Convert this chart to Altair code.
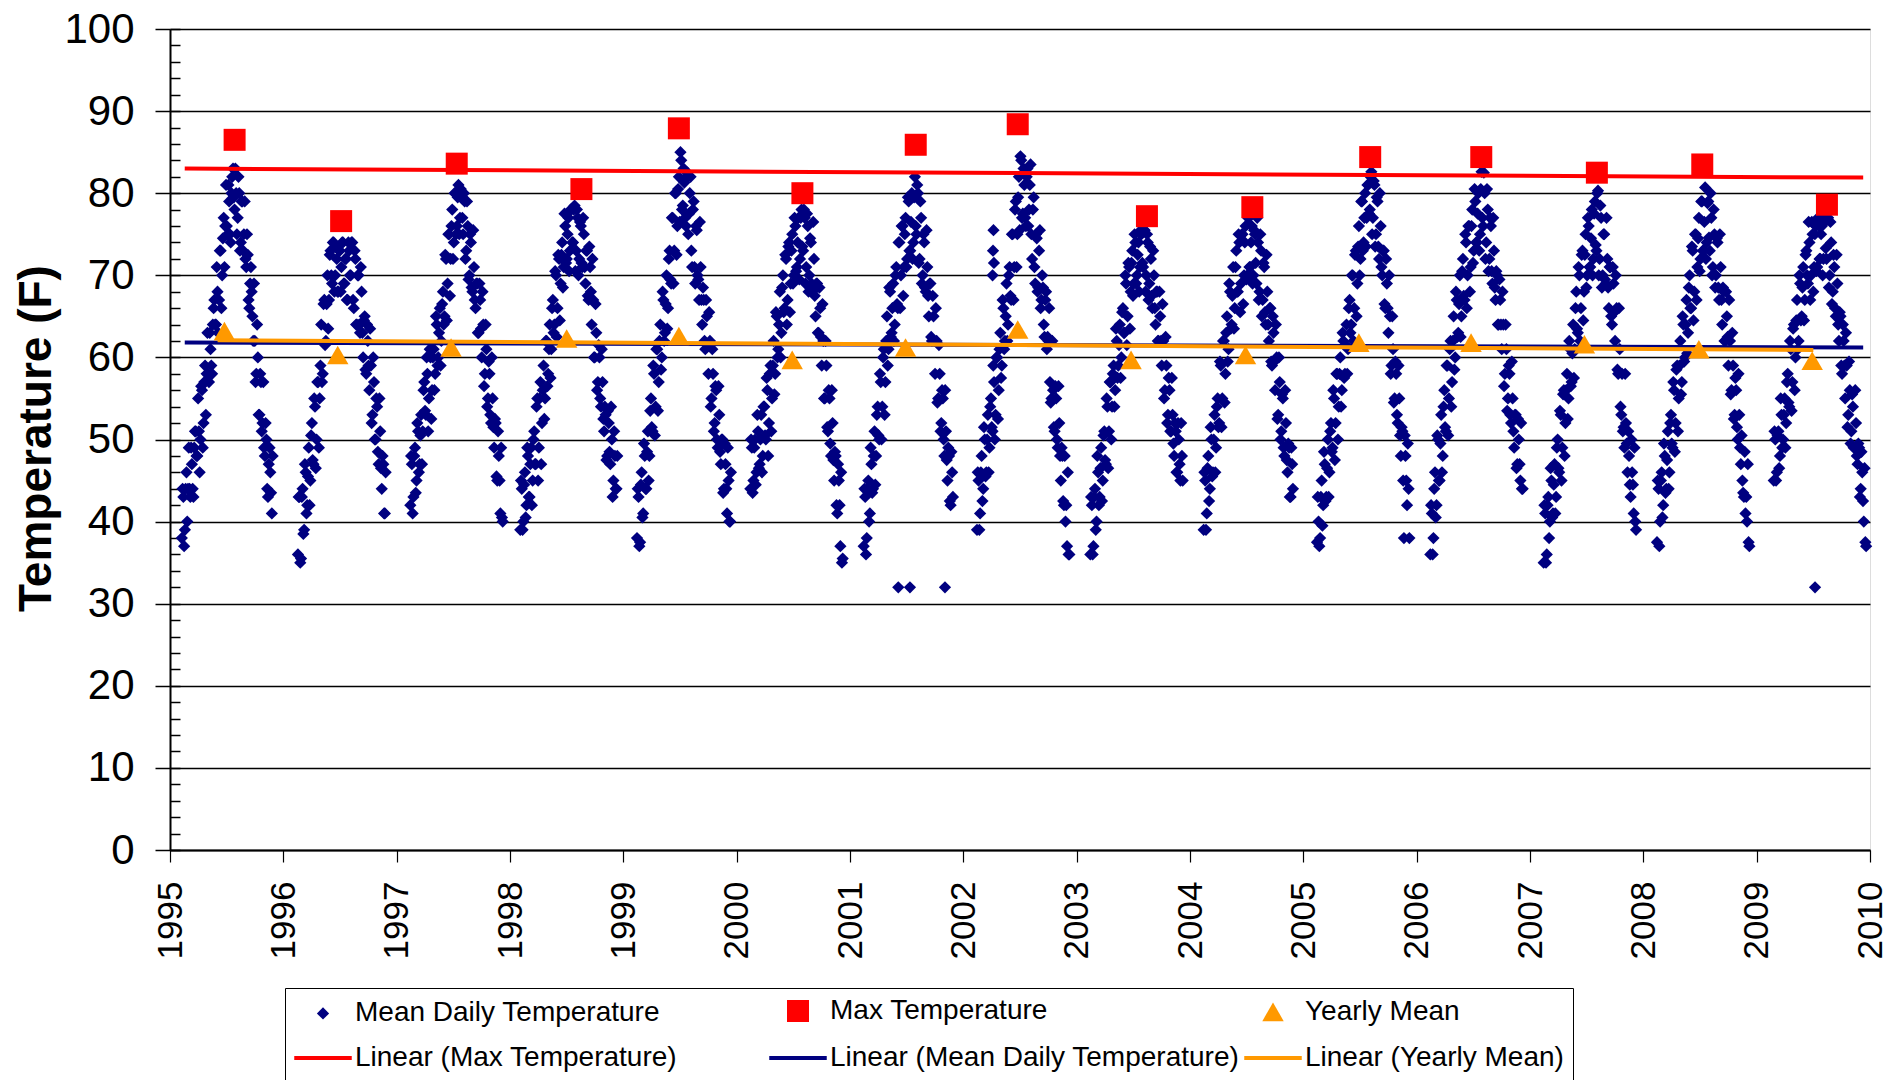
import altair as alt
import pandas as pd

# ------------------------------------------------------------------ data
YEARS = list(range(1995, 2010))
# first sampled day-of-year for each year, and the sampling step (days)
START_DOY = [38, 47, 44, 33, 44, 44, 44, 44, 44, 44, 44, 44, 44, 44, 55]
STEP_DAYS = 5
# second set of readings, taken half a step after the first set
OFFSET_B = 2.5

D1995 = [38, 43, 39, 46, 44, 44, 49, 44, 49, 51, 48, 51, 50, 56, 52, 59, 58, 58, 63, 59,
         64, 67, 64, 68, 67, 73, 70, 77, 76, 76, 81, 75, 80, 83, 78, 80, 77, 80, 74, 79,
         75, 72, 75, 67, 69, 68, 62, 62, 58, 60, 53, 57, 52, 49, 52, 44, 47, 46, 41]
D1996 = [36, 43, 35.5, 44, 39, 46, 42, 49, 45, 52, 47, 54, 50, 57, 55, 64, 58, 67, 62, 70,
         67, 73, 69, 74, 70, 72, 68, 73, 71, 74, 69, 72, 67, 73, 70, 74, 66, 72, 64, 70,
         63, 68, 60, 65, 58, 62, 56, 59, 53, 57, 50, 54, 47, 51, 44, 47, 41]
D1997 = [42, 47, 43, 49, 45, 51, 47, 53, 51, 57, 53, 58, 55, 60, 56, 61, 58, 64, 60, 66,
         62, 68, 65, 72, 69, 75, 72, 78, 74, 80, 76, 81, 77, 80, 75, 79, 73, 76, 70, 74,
         68, 71, 66, 69, 63, 67, 60, 64, 58, 61, 55, 58, 52, 55, 49, 52, 45, 48, 41, 40.5]
D1998 = [39, 44, 40, 46, 42, 48, 43, 49, 45, 51, 47, 55, 49, 57, 52, 59, 55, 62, 58, 64,
         61, 67, 64, 70, 66, 72, 69, 74, 71, 76, 72, 77, 73, 78, 74, 78.5, 73, 77, 72, 76,
         71, 75, 69, 73, 67, 71, 64, 67, 60, 63, 57, 60, 54, 57, 51, 53, 48, 52, 47, 50,
         45, 48, 44]
D1999 = [38, 43, 37.5, 46, 41, 48, 44, 51, 48, 55, 51, 58, 54, 61, 57, 64, 60, 67, 63, 70,
         66, 73, 69, 77, 73, 80, 76, 82, 85, 78, 83, 77, 82, 75, 80, 73, 78, 71, 76, 70,
         67, 71, 64, 67, 61, 65, 58, 62, 55, 58, 52, 56, 49, 53, 47, 50, 44, 47, 41, 45, 40]
D2000 = [44, 49, 45, 50, 46, 51, 47, 53, 48, 54, 50, 56, 52, 59, 55, 62, 58, 65, 61, 68,
         63, 70, 66, 72, 67, 74, 69, 75, 70, 76, 71, 77, 72, 78, 73, 77, 71, 76, 70, 74,
         68, 72, 65, 69, 63, 66, 59, 62, 55, 59, 51, 55, 48, 52, 45, 48, 41, 45, 37, 35]
D2001 = [37, 43, 38, 45, 41, 47, 44, 51, 48, 54, 50, 57, 54, 61, 57, 65, 61, 68, 63, 69,
         64, 71, 66, 74, 70, 76, 71, 77, 72, 79, 73, 80, 74, 82, 75, 80, 72, 77, 70, 74,
         68, 71, 65, 69, 62, 65, 58, 62, 55, 58, 52, 55, 48, 51, 45, 48, 42, 46]
D2002 = [39, 45, 41, 48, 44, 50, 46, 53, 49, 55, 51, 57, 53, 60, 56, 63, 59, 66, 62, 69,
         64, 71, 67, 75, 71, 79, 75, 82, 84.5, 77, 83, 77, 82, 76, 81, 75, 78, 71, 75, 68,
         73, 66, 70, 64, 67, 61, 62, 57, 55, 56, 51, 55, 49, 52, 45, 48, 42, 40, 37, 36]
D2003 = [36, 42, 37, 44, 40, 46, 43, 49, 45, 51, 47, 54, 51, 57, 54, 59, 56, 62, 59, 64,
         60, 66, 63, 69, 65, 71, 68, 73, 69, 74, 70, 74, 71, 75, 71, 75.5, 70, 74, 69, 72,
         66, 70, 64, 68, 62, 65, 59, 62, 56, 59, 53, 56, 51, 53, 48, 51, 46, 50, 45, 48]
D2004 = [39, 45, 41, 48, 44, 50, 46, 53, 49, 55, 52, 59, 55, 62, 58, 65, 61, 68, 64, 71,
         66, 73, 68, 74, 69, 75, 70, 76, 70, 77, 71, 76, 70, 75, 69, 74, 68, 73, 67, 71,
         64, 68, 62, 66, 59, 63, 56, 60, 53, 57, 51, 55, 48, 52, 46, 49, 43, 47]
D2005 = [37.5, 40, 38, 45, 42, 47, 43, 50, 46, 52, 49, 55, 52, 58, 54, 60, 56, 62, 58, 64,
         61, 67, 64, 70, 66, 73, 69, 76, 72, 79, 74, 80, 77, 81, 78, 82.6, 77, 81, 75, 79,
         72, 76, 70, 73, 66, 69, 63, 65, 59, 61, 55, 58, 52, 55, 48, 51, 38, 48, 42, 44]
D2006 = [36, 41, 38, 46, 42, 50, 45, 53, 48, 56, 51, 59, 55, 62, 57, 65, 60, 67, 63, 70,
         65, 72, 67, 74, 70, 76, 71, 78, 73, 79, 74, 80, 75, 82.6, 76, 80, 74, 78, 72, 76,
         69, 73, 67, 70, 64, 67, 61, 64, 58, 61, 55, 58, 52, 55, 49, 53, 47, 50, 45, 44]
D2007 = [35, 41, 36, 43, 40, 45, 41, 47, 43, 50, 46, 53, 49, 56, 52, 58, 55, 61, 57, 64,
         61, 68, 63, 70, 66, 73, 68, 75, 70, 76, 71, 78, 72, 79, 73, 80.3, 72, 77, 70, 75,
         69, 72, 66, 71, 64, 69, 62, 66, 58, 61, 53, 51, 49, 52, 46, 48, 43, 46, 41, 40]
D2008 = [37.5, 44, 40, 46, 42, 48, 44, 51, 46, 53, 49, 56, 52, 59, 55, 62, 57, 64, 60, 67,
         63, 70, 66, 73, 68, 75, 71, 77, 72, 79, 73, 80.7, 74, 79, 73, 77, 71, 75, 70, 74,
         67, 71, 64, 68, 62, 65, 59, 62, 56, 59, 53, 56, 50, 53, 47, 45, 43, 41, 40, 37.5]
D2009 = [45, 50, 46, 51, 48, 53, 50, 55, 52, 58, 54, 61, 57, 64, 60, 67, 62, 69, 65, 71,
         67, 73, 69, 74, 70, 75, 71, 76, 71, 76, 72, 76, 72, 76.5, 72, 77, 70, 74, 68, 71,
         65, 69, 62, 65, 58, 62, 55, 59, 53, 56, 51, 54, 49, 52, 47, 49, 44, 46, 40, 37.5]

E1995 = [44, 37, 44, 40, 49, 43, 47, 43, 51, 48, 55, 46, 56.5, 49, 57, 53, 63, 57, 61, 58,
         66, 64, 71, 63, 73, 66, 74.5, 71, 81, 75, 79, 74, 82, 79.5, 83, 75, 82, 73, 79, 73,
         79, 71, 72.5, 66, 71, 65, 69, 57, 64, 53, 58, 51, 57, 48, 50, 43, 49, 43.5, 48]
E1996 = [43, 35, 43, 38.5, 47, 41, 45.5, 42, 50.5, 47.5, 55, 46.5, 57, 49, 59, 57, 66.5, 61.5,
         66.5, 63.5, 72.5, 70, 74, 68, 73.5, 68, 73, 68, 74, 69, 72, 67, 74, 70, 74, 67, 73,
         64, 70, 64, 71, 63, 64.5, 58.5, 64, 59, 63.5, 52, 60, 50, 55, 48.5, 55, 46.5, 48, 41, 46]
E1997 = [48, 41, 48, 43.5, 52, 46, 50.5, 47, 56, 53.5, 60, 51, 61, 52.5, 60, 56, 65, 59, 63, 59,
         66.5, 64, 72.5, 64.5, 75, 67.5, 76, 72, 80, 75, 79.5, 75, 80.5, 77, 80, 72, 79, 69.5,
         75, 68.5, 75.5, 67, 69, 63, 69, 63.5, 68, 56.5, 64, 54, 59.5, 53, 60, 51.5, 52.5,
         45.5, 51, 45, 49, 40]
E1998 = [45, 39, 44.5, 40.5, 49, 43, 47, 42, 50, 47, 54, 45, 55, 47, 56, 52.5, 62, 56.5, 61,
         57.5, 66, 63, 70.5, 62.5, 72.5, 64.5, 72.5, 68.5, 77.5, 71.5, 75, 70.5, 78, 74, 78,
         70.5, 78, 70, 76.5, 71.5, 77, 71, 73, 67.5, 73.5, 68, 72, 60, 66.5, 56, 61.5, 55, 61,
         52.5, 54, 47.5, 53.5, 48.5, 54, 43, 51, 44, 48]
E1999 = [44, 37, 44.5, 40.5, 49.5, 44, 48.5, 45, 53.5, 51.5, 59, 50.5, 61, 53.5, 62, 58.5, 68,
         62, 66.5, 63.5, 72, 69.5, 77, 69, 80, 72.5, 80.5, 76.5, 84, 78.5, 81.3, 76, 82.5, 77.5,
         82, 71, 79, 69, 75.5, 69.5, 76.5, 67, 68.5, 62, 67, 61.5, 65.5, 54, 61, 51, 56.5, 50,
         56.5, 48.5, 50, 43.5, 49.5, 44, 49, 40, 46]
E2000 = [50, 43.5, 49, 44.5, 53, 46.5, 50, 46, 54, 50.5, 57.5, 48, 58, 51, 59, 55.5, 65.5, 60,
         64, 60, 68.5, 65.5, 72.5, 64, 73.5, 65.5, 73, 69, 77, 70.5, 74, 69.5, 77, 73.5, 78, 69,
         77.5, 68, 74.5, 69, 76.5, 67.5, 69, 63, 68.5, 62.5, 66.5, 55, 62, 51.5, 56, 49.5, 56,
         47.5, 48.5, 42, 47, 42, 46, 35.5]
E2001 = [44, 36, 44, 40, 49, 43.5, 48, 44.5, 53, 50.5, 58, 50, 60, 53, 62, 59, 68.5, 62.5, 66,
         62, 70, 66.5, 74, 66, 76, 67.5, 75, 71, 79.5, 73, 76.5, 72, 79.5, 76, 81, 71.5, 79, 69,
         75, 68.5, 75.5, 67.5, 69, 62.5, 67.5, 62, 66, 54.5, 61.5, 51, 56, 50, 56, 47.5, 49,
         42.5, 48.5, 43]
E2002 = [46, 39, 46, 42.5, 51.5, 45.5, 50, 46, 54, 51.5, 59, 50, 60, 52.5, 61, 57.5, 67, 61,
         65, 62, 70, 67.5, 75, 67, 78, 71, 79.5, 75.5, 84, 77.5, 81, 76, 83, 78, 83.5, 72, 79.5,
         69, 74.5, 68.5, 75.5, 67, 68.5, 62.5, 68, 62.5, 66, 54.5, 62, 51.5, 56.5, 50, 56.5,
         48, 49, 42.5, 48, 42, 46, 36]
E2003 = [43, 36, 43, 39, 48, 42, 46.5, 42.5, 50.5, 47.5, 55, 46.5, 57, 50, 58, 54, 63.5, 57.5,
         61.5, 57.5, 65.5, 63, 70, 61.5, 71.5, 63.5, 71.5, 67.5, 75, 69, 72.5, 68, 75.5, 71.5,
         75.5, 68, 75, 67, 73.5, 67.5, 73, 66, 68, 62, 68, 62, 66.5, 55, 62.5, 52, 57.5, 51,
         57.5, 49.5, 52, 46, 52, 47, 52, 45]
E2004 = [46, 39, 46.5, 42.5, 51.5, 45.5, 50, 46, 54, 51.5, 59.5, 51.5, 62, 54.5, 63, 59.5, 69,
         63.5, 67.5, 63.5, 71, 68, 75, 65.5, 75, 66.5, 74, 69.5, 77, 71, 74, 69, 75.5, 71.5, 77,
         67, 75, 65, 71.5, 65.5, 72.5, 64, 66, 59.5, 65, 59.5, 64, 52.5, 60, 50, 55.5, 49, 56,
         47.5, 49.5, 43, 49, 44]
E2005 = [43, 37, 43, 39.5, 48.5, 42.5, 46.5, 43, 51, 48.5, 56, 47.5, 58, 50, 58, 54, 63, 57.5,
         61.5, 58, 66, 63, 70, 62, 72.5, 65, 73.5, 70, 79, 73, 77, 73.5, 81, 77.5, 82, 75, 81.5,
         73.5, 79.5, 73.5, 80, 71, 73, 66.5, 72, 66, 70, 58, 65, 54.5, 59.5, 53, 59, 50.5,
         51.5, 45, 50.5, 45, 49.5, 38]
E2006 = [42, 36, 44, 40.5, 50.5, 45, 49.5, 46, 54, 51.5, 59, 50.5, 61, 54, 62, 58.5, 68, 62.5,
         66.5, 62.5, 70.5, 67.5, 75, 66, 76, 68, 76, 71.5, 80.5, 74, 77.5, 73, 80.5, 77, 82.5,
         72, 80.5, 70.5, 77, 70.5, 77, 68.5, 70.5, 64, 69.5, 64, 68, 56.5, 64, 53.5, 59, 53,
         59.5, 51, 53, 46.5, 52.5, 47, 52, 44]
E2007 = [42, 35, 42, 38, 46.5, 40.5, 44.5, 41, 49, 46.5, 53.5, 45, 55.5, 48, 56, 52.5, 62, 56.5,
         60.5, 57.5, 66, 63.5, 71, 62, 72.5, 64.5, 72.5, 68.5, 77, 71, 74.5, 70, 77.5, 73.7, 80,
         70, 78.5, 68.5, 75, 69.5, 77, 68.5, 71, 65, 71, 65.5, 70, 58.5, 66, 54, 58, 51.5, 58,
         49.5, 51, 44.5, 50, 44.5, 49, 39]
E2008 = [45, 37, 45, 40.5, 49.5, 43.5, 47.5, 44, 52, 49.5, 57, 48.5, 58.5, 51, 59, 55.5, 65,
         59.5, 64, 60.5, 68.5, 66, 73.5, 64.5, 75, 67, 74.5, 70.5, 79, 73, 76.5, 72, 78.8, 74.6,
         80, 70, 78, 68.5, 74.5, 68.5, 75, 67, 68.5, 62, 68, 62.5, 67, 55.5, 63, 52.5, 57.5,
         51.5, 58, 49, 50.5, 43.5, 48.5, 43, 47, 37]
E2009 = [51, 45, 50.5, 46.5, 55, 49, 53, 49, 57, 54.5, 62, 53.5, 63.5, 56, 64.5, 61, 70, 64.5,
         68.5, 64.5, 72.5, 70, 76.5, 67, 76.5, 68, 75, 70.5, 77, 72, 75, 70, 77, 73.3, 77, 68.5,
         76.5, 66.5, 72.5, 66, 72.5, 64, 65.5, 59, 64, 59, 63, 51.5, 59.5, 49.5, 55.5, 49, 56,
         48, 49.5, 43, 48.5, 42.5, 46.5, 37]

DAILY_A = [D1995, D1996, D1997, D1998, D1999, D2000, D2001, D2002, D2003, D2004,
           D2005, D2006, D2007, D2008, D2009]
DAILY_B = [E1995, E1996, E1997, E1998, E1999, E2000, E2001, E2002, E2003, E2004,
           E2005, E2006, E2007, E2008, E2009]

# isolated daily readings (decimal year, value)
EXTRA_X = [2001.426, 2001.529, 2001.838, 2009.515, 2002.258, 2002.262, 2002.266, 2002.270]
EXTRA_Y = [32, 32, 32, 32, 70, 73, 75.5, 71.5]

MAX_X = [1995.57, 1996.51, 1997.53, 1998.63, 1999.49, 2000.58, 2001.58, 2002.48,
         2003.62, 2004.55, 2005.59, 2006.57, 2007.59, 2008.52, 2009.62]
MAX_Y = [86.5, 76.6, 83.6, 80.5, 87.9, 80.0, 85.9, 88.4, 77.2, 78.3, 84.4, 84.4, 82.5, 83.5, 78.6]

MEAN_X = [1995.48, 1996.48, 1997.48, 1998.50, 1999.49, 2000.49, 2001.49, 2002.48,
          2003.48, 2004.49, 2005.49, 2006.48, 2007.48, 2008.49, 2009.49]
MEAN_Y = [63.2, 60.3, 61.2, 62.3, 62.6, 59.7, 61.2, 63.4, 59.7, 60.3, 61.8, 61.8, 61.6, 61.0, 59.6]

TREND_NAMES = ["Linear (Max Temperature)", "Linear (Mean Daily Temperature)", "Linear (Yearly Mean)"]
TREND_X = [[1995.13, 2009.94], [1995.13, 2009.94], [1995.42, 2009.50]]
TREND_Y = [[83.0, 81.9], [61.8, 61.2], [62.1, 60.9]]

SERIES = ["Mean Daily Temperature", "Max Temperature", "Yearly Mean",
          "Linear (Max Temperature)", "Linear (Mean Daily Temperature)", "Linear (Yearly Mean)"]
X_TICKS = list(range(1995, 2011))
Y_TICKS = list(range(0, 101, 10))
Y_MINOR = list(range(0, 101, 2))

# ------------------------------------------------------------------ styles
NAVY, RED, ORANGE = "#000080", "#FF0000", "#FF9900"
LINE_GLYPH = "M-2.5,0L2.5,0"
FILLS = [NAVY, RED, ORANGE, "transparent", "transparent", "transparent"]
STROKES = ["transparent", "transparent", "transparent", RED, NAVY, ORANGE]
SHAPES = ["diamond", "square", "triangle-up", LINE_GLYPH, LINE_GLYPH, LINE_GLYPH]
SIZES = [150, 484, 460, 529, 529, 529]
FONT = "Liberation Sans"

# ------------------------------------------------------------------ tables
rows = []
for yr, d0, va, vb in zip(YEARS, START_DOY, DAILY_A, DAILY_B):
    for i, v in enumerate(va):
        rows.append({"x": yr + (d0 + STEP_DAYS * i) / 365.0, "y": v, "series": SERIES[0]})
    for i, v in enumerate(vb):
        rows.append({"x": yr + (d0 + OFFSET_B + STEP_DAYS * i) / 365.0, "y": v, "series": SERIES[0]})
for xv, yv in zip(EXTRA_X, EXTRA_Y):
    rows.append({"x": xv, "y": yv, "series": SERIES[0]})
daily = pd.DataFrame(rows)
maxdf = pd.DataFrame({"x": MAX_X, "y": MAX_Y, "series": SERIES[1]})
meandf = pd.DataFrame({"x": MEAN_X, "y": MEAN_Y, "series": SERIES[2]})
trend = pd.DataFrame([{"x": xv, "y": yv, "series": n}
                      for n, xs, ys in zip(TREND_NAMES, TREND_X, TREND_Y)
                      for xv, yv in zip(xs, ys)])

legend = alt.Legend(
    title=None, orient="none", legendX=115, legendY=959, columns=3, direction="horizontal",
    gridAlign="all", labelFont=FONT, labelFontSize=28, labelColor="black", labelLimit=800,
    labelOffset=18, symbolOffset=15, rowPadding=14, columnPadding=-4, padding=9,
    strokeColor="black", fillColor="white", symbolStrokeWidth=4, symbolOpacity=1,
)

xenc = alt.X("x:Q", scale=alt.Scale(domain=[1995, 2010], nice=False, zero=False),
             axis=alt.Axis(values=X_TICKS, format="d", labelAngle=270, labelAlign="right",
                           labelBaseline="middle", labelFont=FONT, labelFontSize=35,
                           labelColor="black", labelPadding=19, labelFlush=False,
                           labelOverlap=False, tickSize=12, tickColor="black", tickWidth=1.2,
                           domainColor="black", domainWidth=2, grid=False, title=None))
yscale = alt.Scale(domain=[0, 100], nice=False, zero=False)
y_main = alt.Y("y:Q", scale=yscale,
               axis=alt.Axis(values=Y_TICKS, format="d", labelFont=FONT, labelFontSize=42,
                             labelColor="black", labelPadding=21, tickSize=15,
                             tickColor="black", tickWidth=1.5, domainColor="black",
                             domainWidth=2, grid=True, gridColor="black", gridWidth=1.5,
                             gridOpacity=1, title="Temperature (F)", titleFont=FONT,
                             titleFontSize=46, titleFontWeight="bold", titleColor="black",
                             titleAngle=270, titleX=-120, titleY=409,
                             titleBaseline="alphabetic", titleAlign="center"))
y_plain = alt.Y("y:Q", scale=yscale, axis=None)
y_minor = alt.Y("y:Q", scale=yscale,
                axis=alt.Axis(orient="left", values=Y_MINOR, labels=False, domain=False,
                              grid=False, ticks=True, tickSize=10, offset=-10,
                              tickColor="black", tickWidth=1.5, title=None))

fill_enc = alt.Fill("series:N", scale=alt.Scale(domain=SERIES, range=FILLS), legend=legend)
shape_enc = alt.Shape("series:N", scale=alt.Scale(domain=SERIES, range=SHAPES), legend=legend)
size_enc = alt.Size("series:N", scale=alt.Scale(type="ordinal", domain=SERIES, range=SIZES),
                    legend=legend)
stroke_enc = alt.Stroke("series:N", scale=alt.Scale(domain=SERIES, range=STROKES), legend=legend)

pts = alt.Chart(daily).mark_point(filled=True, opacity=1).encode(
    x=xenc, y=y_main, fill=fill_enc, shape=shape_enc, size=size_enc)
lines = alt.Chart(trend).mark_line(strokeWidth=4).encode(
    x=xenc, y=y_plain, stroke=stroke_enc, detail="series:N")
squares = alt.Chart(maxdf).mark_point(filled=True, opacity=1).encode(
    x=xenc, y=y_plain, fill=fill_enc, shape=shape_enc, size=size_enc)
tris = alt.Chart(meandf).mark_point(filled=True, opacity=1).encode(
    x=xenc, y=y_minor, fill=fill_enc, shape=shape_enc, size=size_enc)

chart = alt.layer(pts, lines, squares, tris).resolve_scale(y="independent").properties(
    width=1700, height=821, autosize=alt.AutoSizeParams(type="none"),
    padding={"left": 162, "top": 21, "right": 26, "bottom": 240},
    background="white",
).configure_view(stroke=None).configure(font=FONT)

chart.save("out.html", embed_options={"renderer": "svg", "actions": False})
